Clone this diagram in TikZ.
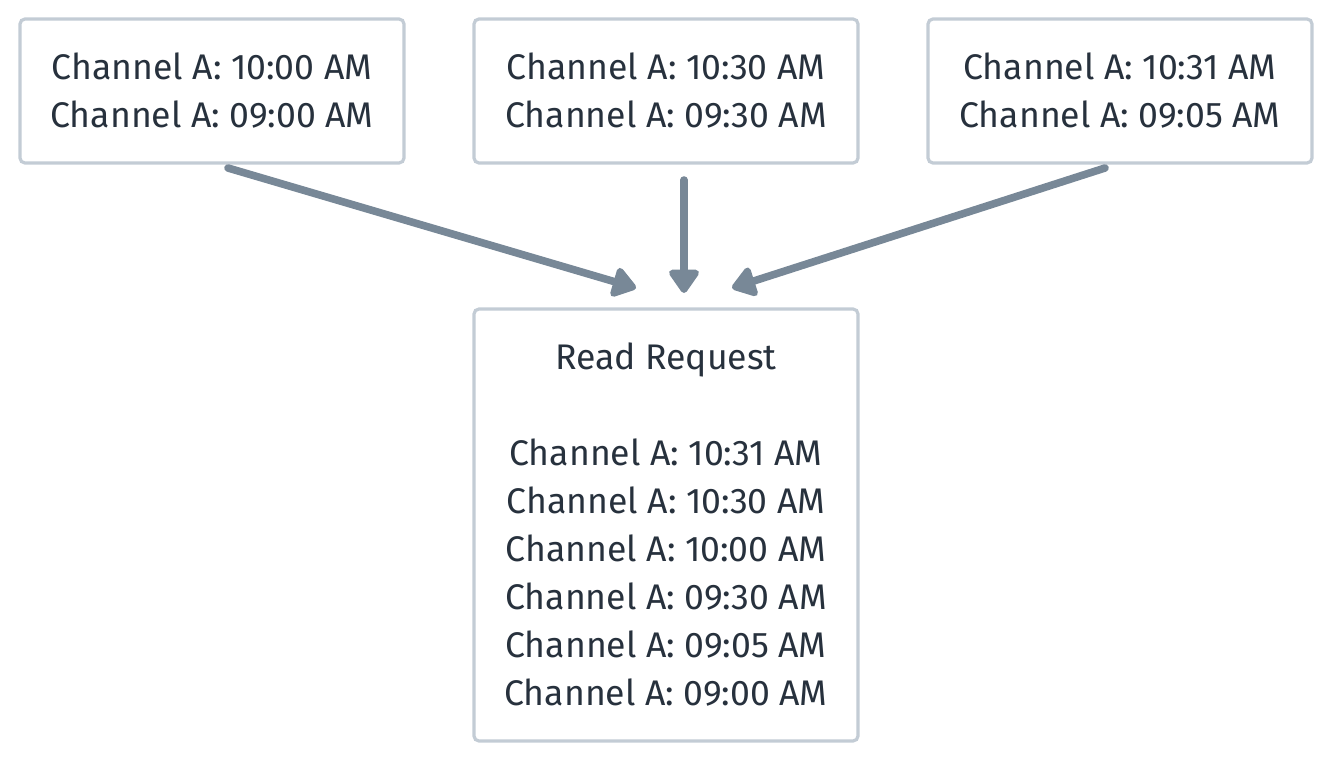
\documentclass[tikz,border=0pt]{standalone}
\usepackage{fontspec}
\setmainfont{Fira Sans}
\usetikzlibrary{arrows.meta}
\definecolor{boxline}{HTML}{C3CCD5}
\definecolor{arrowc}{HTML}{788897}
\definecolor{txt}{HTML}{27313D}
\begin{document}
\begin{tikzpicture}[x=0.5pt,y=-0.5pt,
  box/.style={draw=boxline,line width=1.6pt,rounded corners=2.5pt,fill=white,
    minimum width=192pt,minimum height=72pt,align=center,text=txt,
    font=\fontsize{17.8}{24}\selectfont,inner sep=0pt},
  arr/.style={draw=arrowc,line width=3.8pt,line cap=round,
    -{Triangle[width=17pt,length=13pt,round]}}]
\useasboundingbox (0,0) rectangle (1332,760);
\node[box] (b1) at (212,91) {Channel A: 10:00 AM\\Channel A: 09:00 AM};
\node[box] (b2) at (666,91) {Channel A: 10:30 AM\\Channel A: 09:30 AM};
\node[box] (b3) at (1120,91) {Channel A: 10:31 AM\\Channel A: 09:05 AM};
\node[box,minimum height=216pt] (r) at (666,525) {Read Request\\[24pt]Channel A: 10:31 AM\\Channel A: 10:30 AM\\Channel A: 10:00 AM\\Channel A: 09:30 AM\\Channel A: 09:05 AM\\Channel A: 09:00 AM};
\coordinate (s1) at (228,168);
\coordinate (e1) at (636,288);
\coordinate (s2) at (684,180);
\coordinate (e2) at (684,293);
\coordinate (s3) at (1105,168);
\coordinate (e3) at (732,288);
\draw[arr] (s1) -- (e1);
\draw[arr] (s2) -- (e2);
\draw[arr] (s3) -- (e3);
\end{tikzpicture}
\end{document}
